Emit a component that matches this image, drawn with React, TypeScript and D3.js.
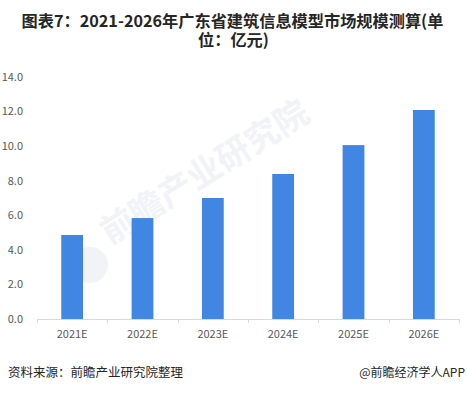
import { useEffect, useRef } from 'react'
import * as d3 from 'd3'

// 数据
const years = ['2021E', '2022E', '2023E', '2024E', '2025E', '2026E']
const marketSize = [4.86, 5.84, 7.0, 8.39, 10.06, 12.09]
const yTicks = [0, 2, 4, 6, 8, 10, 12, 14]

const W = 467
const H = 393
const M = { top: 77, right: 8, bottom: 74, left: 37 }
const FONT = '"Microsoft YaHei", "Noto Sans CJK SC", sans-serif'

export default function App() {
  const svgRef = useRef<SVGSVGElement>(null)

  useEffect(() => {
    if (!svgRef.current) return
    const svg = d3.select(svgRef.current)
    svg.selectAll('*').remove()

    const innerW = W - M.left - M.right
    const innerH = H - M.top - M.bottom

    const x = d3.scaleBand().domain(years).range([0, innerW]).paddingInner(0.69).paddingOuter(0.345)
    const bandX = d3.scaleBand().domain(years).range([0, innerW])
    const y = d3.scaleLinear().domain([0, 14]).range([innerH, 0])

    svg.append('rect').attr('width', W).attr('height', H).attr('fill', '#fff')

    // ── 标题 ─────────────────────────────────────────
    const title = svg.append('text')
      .attr('text-anchor', 'middle').attr('font-family', FONT)
      .attr('font-size', 16.2).attr('font-weight', 'bold').attr('fill', '#262626')
    title.append('tspan').attr('x', W / 2 - 1).attr('y', 27).text('图表7：2021-2026年广东省建筑信息模型市场规模测算(单')
    title.append('tspan').attr('x', W / 2).attr('y', 46).text('位：亿元)')

    // ── 水印 ─────────────────────────────────────────
    svg.append('text')
      .attr('transform', 'translate(110,245) rotate(-32)')
      .attr('font-family', FONT).attr('font-size', 34).attr('font-weight', 'bold')
      .attr('fill', '#f1f3f7')
      .text('前瞻产业研究院')
    svg.append('circle').attr('cx', 90).attr('cy', 265).attr('r', 18).attr('fill', '#f1f3f7')

    const g = svg.append('g').attr('transform', `translate(${M.left},${M.top})`)

    // ── Y 轴标签 ─────────────────────────────────────
    g.selectAll('.ytick').data(yTicks).join('text')
      .attr('x', -14).attr('y', (d) => y(d))
      .attr('dy', '0.35em').attr('text-anchor', 'end')
      .attr('font-family', FONT).attr('font-size', 11).attr('fill', '#595959')
      .text((d) => d.toFixed(1))

    // ── 柱子 ─────────────────────────────────────────
    g.selectAll('.bar').data(years).join('rect')
      .attr('x', (d) => x(d)!)
      .attr('y', (_, i) => y(marketSize[i]))
      .attr('width', x.bandwidth())
      .attr('height', (_, i) => innerH - y(marketSize[i]))
      .attr('fill', '#4186e2')

    // ── X 轴 ─────────────────────────────────────────
    g.append('line')
      .attr('x1', 0).attr('x2', innerW).attr('y1', innerH + 0.5).attr('y2', innerH + 0.5)
      .attr('stroke', '#d9d9d9')
    const tickPos = [...years.map((d) => bandX(d)!), innerW]
    g.selectAll('.xtick').data(tickPos).join('line')
      .attr('x1', (d) => Math.round(d) + 0.5).attr('x2', (d) => Math.round(d) + 0.5)
      .attr('y1', innerH).attr('y2', innerH + 4)
      .attr('stroke', '#d9d9d9')
    g.selectAll('.xlabel').data(years).join('text')
      .attr('x', (d) => bandX(d)! + bandX.bandwidth() / 2)
      .attr('y', innerH + 19)
      .attr('text-anchor', 'middle')
      .attr('font-family', FONT).attr('font-size', 11).attr('fill', '#595959')
      .text((d) => d)

    // ── 来源 ─────────────────────────────────────────
    svg.append('text').attr('x', 8).attr('y', 377)
      .attr('font-family', FONT).attr('font-size', 12.5).attr('fill', '#262626')
      .text('资料来源：前瞻产业研究院整理')
    svg.append('text').attr('x', 465).attr('y', 377).attr('text-anchor', 'end')
      .attr('font-family', FONT).attr('font-size', 12).attr('fill', '#262626')
      .text('@前瞻经济学人APP')
  }, [])

  return <svg ref={svgRef} width={W} height={H} style={{ display: 'block', position: 'absolute', left: 0, top: 0 }} />
}
